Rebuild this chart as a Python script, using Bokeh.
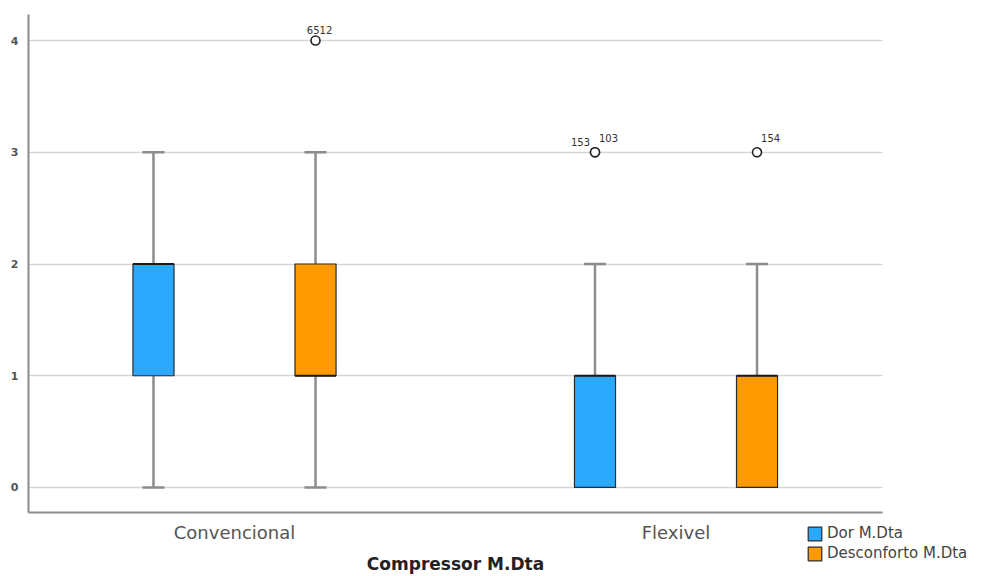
from bokeh.plotting import figure
from bokeh.layouts import column
from bokeh.models import Range1d, FixedTicker, ColumnDataSource, Legend, LegendItem
from bokeh.embed import file_html
from bokeh.resources import INLINE
from bokeh.core.properties import value

# ---------------- data ----------------
categories = ["Convencional", "Flexivel"]
series = ["Dor M.Dta", "Desconforto M.Dta"]
lower_whisker = {"Dor M.Dta": [0, 0], "Desconforto M.Dta": [0, 0]}
q1_vals = {"Dor M.Dta": [1, 0], "Desconforto M.Dta": [1, 0]}
median_vals = {"Dor M.Dta": [2, 1], "Desconforto M.Dta": [1, 1]}
q3_vals = {"Dor M.Dta": [2, 1], "Desconforto M.Dta": [2, 1]}
upper_whisker = {"Dor M.Dta": [3, 2], "Desconforto M.Dta": [3, 2]}
outlier_category = ["Convencional", "Flexivel", "Flexivel", "Flexivel"]
outlier_series = ["Desconforto M.Dta", "Dor M.Dta", "Dor M.Dta", "Desconforto M.Dta"]
outlier_values = [4, 3, 3, 3]
outlier_labels = ["6512", "153", "103", "154"]
y_ticks = [0, 1, 2, 3, 4]
x_axis_title = "Compressor M.Dta"

# ---------------- styles ----------------
colors = {"Dor M.Dta": "#2aa9ff", "Desconforto M.Dta": "#ff9a00"}
offsets = {"Dor M.Dta": -0.1835, "Desconforto M.Dta": 0.1835}
box_w = 0.093
cap_w = 0.05
label_style = [  # (x_offset, y_offset, align)
    (4, -7, "center"),
    (-5, -6, "right"),
    (4, -10, "left"),
    (4, -10, "left"),
]
FONT = "DejaVu Sans"

p = figure(width=981, height=576, output_backend="svg", toolbar_location=None,
           x_range=Range1d(0.5334, 2.4677), y_range=Range1d(-0.224, 4.233),
           min_border_left=28, min_border_right=99, min_border_top=14, min_border_bottom=64,
           frame_align=False)
p.outline_line_color = None
p.xgrid.visible = False
p.ygrid.grid_line_color = "#d6d6d6"
p.ygrid.grid_line_width = 1.5

# axes
p.yaxis.ticker = FixedTicker(ticks=y_ticks)
p.yaxis.major_tick_line_color = None
p.yaxis.minor_tick_line_color = None
p.yaxis.axis_line_color = "#8c8c8c"
p.yaxis.axis_line_width = 2
p.yaxis.major_label_text_font = FONT
p.yaxis.major_label_text_font_size = "11px"
p.yaxis.major_label_text_font_style = "bold"
p.yaxis.major_label_text_color = "#555555"
p.yaxis.major_label_standoff = 4

p.xaxis.ticker = FixedTicker(ticks=[1, 2])
p.xaxis.major_label_overrides = {i + 1: c for i, c in enumerate(categories)}
p.xaxis.major_tick_line_color = None
p.xaxis.minor_tick_line_color = None
p.xaxis.axis_line_color = "#8c8c8c"
p.xaxis.axis_line_width = 2
p.xaxis.major_label_text_font = FONT
p.xaxis.major_label_text_font_size = "18px"
p.xaxis.major_label_text_color = "#555555"
p.xaxis.major_label_standoff = 3
p.xaxis.axis_label = x_axis_title
p.xaxis.axis_label_text_font = FONT
p.xaxis.axis_label_text_font_size = "17px"
p.xaxis.axis_label_text_font_style = "bold"
p.xaxis.axis_label_text_color = "#222222"
p.xaxis.axis_label_standoff = 8

for s in series:
    xs = [i + 1 + offsets[s] for i in range(len(categories))]
    stem_x, stem_y0, stem_y1 = [], [], []
    cap_x0, cap_x1, cap_y = [], [], []
    for i, x in enumerate(xs):
        if upper_whisker[s][i] > q3_vals[s][i]:
            stem_x.append(x); stem_y0.append(q3_vals[s][i]); stem_y1.append(upper_whisker[s][i])
            cap_x0.append(x - cap_w / 2); cap_x1.append(x + cap_w / 2); cap_y.append(upper_whisker[s][i])
        if lower_whisker[s][i] < q1_vals[s][i]:
            stem_x.append(x); stem_y0.append(lower_whisker[s][i]); stem_y1.append(q1_vals[s][i])
            cap_x0.append(x - cap_w / 2); cap_x1.append(x + cap_w / 2); cap_y.append(lower_whisker[s][i])
    p.segment(x0=stem_x, y0=stem_y0, x1=stem_x, y1=stem_y1, line_color="#8c8c8c", line_width=2.5)
    p.segment(x0=cap_x0, y0=cap_y, x1=cap_x1, y1=cap_y, line_color="#8c8c8c", line_width=2.5)
    src = ColumnDataSource(dict(x=xs, bottom=q1_vals[s], top=q3_vals[s]))
    p.vbar(x="x", bottom="bottom", top="top", width=box_w, source=src,
           fill_color=colors[s], line_color="#2a2a2a", line_width=1.2)
    p.segment(x0=[x - box_w / 2 for x in xs], x1=[x + box_w / 2 for x in xs],
              y0=median_vals[s], y1=median_vals[s], line_color="#1a1a1a", line_width=2)

# outliers
ox = [categories.index(c) + 1 + offsets[s] for c, s in zip(outlier_category, outlier_series)]
p.scatter(x=ox, y=outlier_values, marker="circle", size=9, fill_color="white",
          line_color="#222222", line_width=1.6)
for x, y, t, (dx, dy, al) in zip(ox, outlier_values, outlier_labels, label_style):
    p.text(x=[x], y=[y], text=[t], x_offset=dx, y_offset=dy, text_align=al,
           text_baseline="bottom", text_font=value(FONT), text_font_size="10px",
           text_color="#333333")

# legend: transparent full-width strip overlapping the bottom of the chart
lf = figure(width=981, height=48, output_backend="svg", toolbar_location=None,
            x_range=Range1d(100, 101), y_range=Range1d(100, 101), min_border=0,
            x_axis_location=None, y_axis_location=None,
            margin=(-57, 0, 0, 0), frame_align=False)
lf.grid.visible = False
lf.outline_line_color = None
lf.background_fill_alpha = 0
lf.border_fill_alpha = 0
items = []
for s in series:
    xs = [i + 1 + offsets[s] for i in range(len(categories))]
    r = lf.vbar(x=xs, bottom=q1_vals[s], top=q3_vals[s], width=box_w,
                fill_color=colors[s], line_color="#2a2a2a", line_width=1.2)
    items.append(LegendItem(label=s, renderers=[r]))
legend = Legend(items=items, location=(806, 5), orientation="vertical",
                glyph_width=17, glyph_height=17, label_text_font=FONT,
                label_text_font_size="15px", label_text_color="#444444",
                spacing=2, padding=0, margin=0, border_line_color=None,
                background_fill_alpha=0, label_standoff=4, label_height=18)
lf.add_layout(legend, "center")

layout = column(p, lf, spacing=0)
html = file_html(layout, INLINE)
open("out.html", "w").write(html)
